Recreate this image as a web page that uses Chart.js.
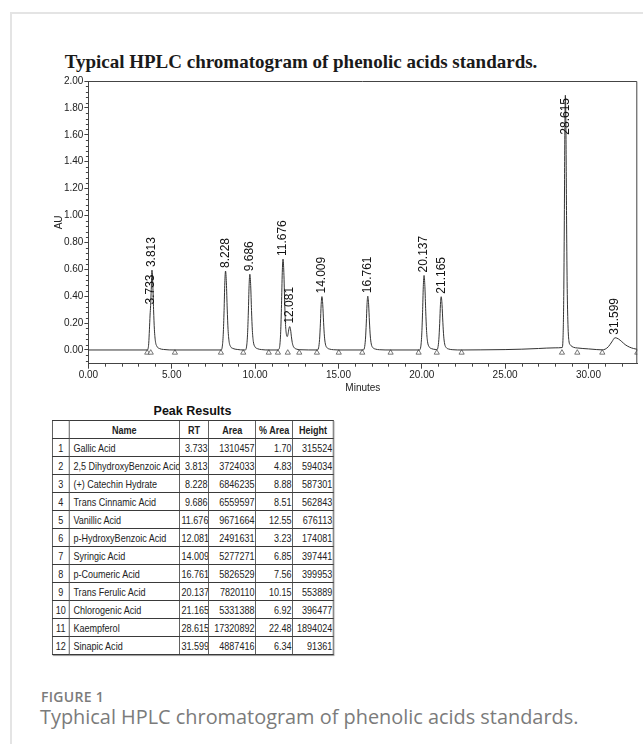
<!DOCTYPE html>
<html>
<head>
<meta charset="utf-8">
<script src="https://cdn.jsdelivr.net/npm/chart.js@4.4.1/dist/chart.umd.min.js"></script>
<style>
  html, body { margin: 0; padding: 0; background: #fff; }
  body { width: 643px; height: 744px; position: relative; overflow: hidden; font-family: Arial, "Liberation Sans", sans-serif; }
  .card { position: absolute; left: 10px; top: 12px; width: 700px; height: 800px; border: 2px solid #e4e4e4; box-sizing: border-box; }
  .title { position: absolute; left: 0; width: 602px; top: 51px; text-align: center; font-family: "Times New Roman", "Liberation Serif", serif; font-weight: bold; font-size: 19px; color: #1a1a1a; }
  #chartBox { position: absolute; left: 40px; top: 70px; width: 603px; height: 330px; }
  .peak-title { position: absolute; left: 52px; width: 281px; top: 404px; text-align: center; font-weight: bold; font-size: 12.5px; color: #111; }
  #peakTable { position: absolute; left: 51.5px; top: 420px; border-collapse: collapse; table-layout: fixed; width: 351.3px;
    transform: scaleX(0.8); transform-origin: 0 0;
    font-family: Arial, "Liberation Sans", sans-serif; font-size: 11.3px; color: #222; box-shadow: 1px 1px 1px #999; }
  #peakTable tr { height: 18px; }
  #peakTable td, #peakTable th { border: 1px solid #3a3a3a; padding: 0 2px; white-space: nowrap; overflow: hidden; line-height: 12px; }
  #peakTable th { font-weight: bold; text-align: center; }
  #peakTable td.n { text-align: center; }
  #peakTable td.name { text-align: left; padding-left: 5px; }
  #peakTable td.num { text-align: right; padding-right: 1px; }
  .fig { position: absolute; left: 41px; top: 687px; font-family: "Open Sans", sans-serif; font-weight: 600; font-size: 14px; color: #7b7b7b; letter-spacing: 0.3px; }
  .cap { position: absolute; left: 40px; top: 703px; font-family: "Open Sans", sans-serif; font-size: 19.9px; color: #7b7b7b; }
</style>
</head>
<body>
<div class="card"></div>
<div class="title">Typical HPLC chromatogram of phenolic acids standards.</div>
<div id="chartBox"><canvas id="chrom"></canvas></div>
<div class="peak-title">Peak Results</div>
<table id="peakTable">
  <colgroup>
    <col style="width:20.8px"><col style="width:138px"><col style="width:36.6px">
    <col style="width:58.7px"><col style="width:46.3px"><col style="width:50.9px">
  </colgroup>
  <thead><tr><th></th><th>Name</th><th>RT</th><th>Area</th><th>% Area</th><th>Height</th></tr></thead>
  <tbody id="peakRows"></tbody>
</table>
<div class="fig">FIGURE 1</div>
<div class="cap">Typhical HPLC chromatogram of phenolic acids standards.</div>

<script>
// Chromatogram trace (minutes, AU)
const TRACE_MIN = [
  0, 3.53,
  3.58, 3.62, 3.66, 3.70, 3.733, 3.77, 3.813, 3.86, 3.91, 3.96, 4.02, 4.11, 4.26, 4.5, 5.19,
  7.95, 8.03, 8.09, 8.14, 8.183, 8.228, 8.278, 8.328, 8.378, 8.438, 8.528, 8.678, 8.928, 9.29,
  9.406, 9.486, 9.546, 9.596, 9.641, 9.686, 9.736, 9.786, 9.836, 9.896, 9.986, 10.136, 10.386, 10.82,
  11.37, 11.40, 11.476, 11.536, 11.586, 11.631, 11.676, 11.726, 11.776, 11.826, 11.88, 11.93,
  11.98, 12.03, 12.081, 12.13, 12.18, 12.23, 12.29, 12.38, 12.5, 12.65,
  13.73, 13.809, 13.869, 13.919, 13.964, 14.009, 14.059, 14.109, 14.159, 14.219, 14.309, 14.459, 14.709, 15.02,
  16.48, 16.561, 16.621, 16.671, 16.716, 16.761, 16.811, 16.861, 16.911, 16.971, 17.061, 17.211, 17.461, 18.13,
  19.857, 19.937, 19.997, 20.047, 20.092, 20.137, 20.187, 20.237, 20.287, 20.347, 20.437, 20.587, 20.8, 20.9,
  20.965, 21.025, 21.075, 21.12, 21.165, 21.215, 21.265, 21.315, 21.375, 21.465, 21.615, 21.865, 22.39,
  23.5, 25.0, 26.0, 27.0, 28.0, 28.419,
  28.475, 28.517, 28.552, 28.584, 28.615, 28.65, 28.685, 28.72, 28.762, 28.825, 28.93, 29.105, 29.33,
  30.0, 30.5, 30.83,
  31.0, 31.2, 31.4, 31.599, 31.8, 32.0, 32.2, 32.45, 32.7, 32.93
];
const TRACE_AU = [
  0, 0,
  0.010, 0.050, 0.150, 0.260, 0.330, 0.450, 0.594, 0.500, 0.300, 0.150, 0.065, 0.027, 0.011, 0.004, 0,
  0, 0.023, 0.117, 0.294, 0.499, 0.587, 0.499, 0.305, 0.153, 0.065, 0.026, 0.011, 0.004, 0,
  0, 0.023, 0.113, 0.282, 0.479, 0.563, 0.479, 0.293, 0.146, 0.062, 0.025, 0.010, 0.003, 0,
  0, 0.002, 0.027, 0.135, 0.338, 0.575, 0.676, 0.575, 0.352, 0.190, 0.115, 0.100,
  0.120, 0.158, 0.174, 0.150, 0.098, 0.055, 0.028, 0.013, 0.006, 0.002,
  0, 0.016, 0.079, 0.199, 0.337, 0.397, 0.337, 0.206, 0.103, 0.044, 0.018, 0.007, 0.002, 0,
  0, 0.016, 0.080, 0.200, 0.340, 0.400, 0.340, 0.208, 0.104, 0.044, 0.018, 0.007, 0.002, 0,
  0, 0.022, 0.111, 0.277, 0.471, 0.554, 0.471, 0.288, 0.144, 0.061, 0.025, 0.010, 0.004, 0.003,
  0.016, 0.079, 0.198, 0.337, 0.396, 0.337, 0.206, 0.103, 0.044, 0.018, 0.007, 0.002, 0,
  0.001, 0.003, 0.006, 0.011, 0.016, 0.018,
  0.094, 0.397, 0.965, 1.628, 1.894, 1.627, 1.000, 0.508, 0.224, 0.070, 0.035, 0.020, 0.015,
  0.008, 0.003, 0.001,
  0.006, 0.025, 0.060, 0.091, 0.082, 0.062, 0.040, 0.022, 0.011, 0.005
];

// Peak integration markers (minutes) and their drawing level (AU)
const MARKER_MIN = [3.53, 3.74, 5.19, 7.95, 9.29, 10.82, 11.37, 11.96, 12.65, 13.71, 15.02,
  16.43, 18.13, 19.81, 20.90, 22.39, 28.41, 29.33, 30.83, 32.93];
const MARKER_AU = -0.02;

// Peak Results table
const PEAK_NAME = ['Gallic Acid', '2,5 DihydroxyBenzoic Acid', '(+) Catechin Hydrate', 'Trans Cinnamic Acid',
  'Vanillic Acid', 'p-HydroxyBenzoic Acid', 'Syringic Acid', 'p-Coumeric Acid', 'Trans Ferulic Acid',
  'Chlorogenic Acid', 'Kaempferol', 'Sinapic Acid'];
const PEAK_RT = [3.733, 3.813, 8.228, 9.686, 11.676, 12.081, 14.009, 16.761, 20.137, 21.165, 28.615, 31.599];
const PEAK_AREA = [1310457, 3724033, 6846235, 6559597, 9671664, 2491631, 5277271, 5826529, 7820110, 5331388, 17320892, 4887416];
const PEAK_PCT = [1.70, 4.83, 8.88, 8.51, 12.55, 3.23, 6.85, 7.56, 10.15, 6.92, 22.48, 6.34];
const PEAK_HEIGHT = [315524, 594034, 587301, 562843, 676113, 174081, 397441, 399953, 553889, 396477, 1894024, 91361];

// Axis ticks
const X_TICKS = [0, 5, 10, 15, 20, 25, 30];
const Y_TICKS = [0, 0.2, 0.4, 0.6, 0.8, 1.0, 1.2, 1.4, 1.6, 1.8, 2.0];

// Fill the table
const tbody = document.getElementById('peakRows');
PEAK_NAME.forEach((name, i) => {
  const tr = document.createElement('tr');
  tr.innerHTML = `<td class="n">${i + 1}</td><td class="name">${name}</td>` +
    `<td class="num">${PEAK_RT[i].toFixed(3)}</td><td class="num">${PEAK_AREA[i]}</td>` +
    `<td class="num">${PEAK_PCT[i].toFixed(2)}</td><td class="num">${PEAK_HEIGHT[i]}</td>`;
  tbody.appendChild(tr);
});

// Frame, minor ticks and rotated retention-time labels
const chromPlugin = {
  id: 'chrom',
  afterDraw(chart) {
    const { ctx, chartArea: a, scales: { x, y } } = chart;
    ctx.save();
    ctx.strokeStyle = '#444';
    ctx.lineWidth = 1;
    ctx.beginPath();
    ctx.moveTo(a.left, a.top + 0.5);
    ctx.lineTo(a.right - 0.5, a.top + 0.5);
    ctx.lineTo(a.right - 0.5, a.bottom);
    for (let m = 1; m <= 32; m++) {
      if (m % 5 === 0) continue;
      const px = Math.round(x.getPixelForValue(m)) + 0.5;
      ctx.moveTo(px, a.bottom);
      ctx.lineTo(px, a.bottom + 3);
    }
    for (let k = -2; k <= 50; k++) {
      if (k % 5 === 0) continue;
      const py = Math.round(y.getPixelForValue(k * 0.04)) + 0.5;
      ctx.moveTo(a.left - 2.5, py);
      ctx.lineTo(a.left, py);
    }
    ctx.stroke();

    ctx.fillStyle = '#111';
    ctx.font = '12px Arial, "Liberation Sans", sans-serif';
    ctx.textBaseline = 'middle';
    ctx.textAlign = 'left';
    PEAK_RT.forEach((rt, i) => {
      const label = rt.toFixed(3);
      const w = ctx.measureText(label).width;
      let base = y.getPixelForValue(PEAK_HEIGHT[i] / 1e6) - 3;
      if (base - w < a.top + 17) base = a.top + 17 + w;
      ctx.save();
      ctx.translate(x.getPixelForValue(rt), base);
      ctx.rotate(-Math.PI / 2);
      ctx.fillText(label, 0, 0);
      ctx.restore();
    });
    ctx.restore();
  }
};

Chart.defaults.font.family = 'Arial, "Liberation Sans", sans-serif';

new Chart(document.getElementById('chrom'), {
  type: 'line',
  data: {
    datasets: [
      {
        data: TRACE_MIN.map((t, i) => ({ x: t, y: TRACE_AU[i] })),
        borderColor: '#333',
        borderWidth: 1,
        pointRadius: 0,
        cubicInterpolationMode: 'monotone',
        fill: false
      },
      {
        type: 'scatter',
        data: MARKER_MIN.map(t => ({ x: t, y: MARKER_AU })),
        pointStyle: 'triangle',
        pointRadius: 3,
        borderColor: '#555',
        backgroundColor: '#fff',
        borderWidth: 0.8
      }
    ]
  },
  options: {
    responsive: true,
    maintainAspectRatio: false,
    animation: false,
    devicePixelRatio: 1,
    layout: { padding: { left: 0, right: 5.7, top: 11, bottom: 0 } },
    plugins: { legend: { display: false }, tooltip: { enabled: false } },
    scales: {
      x: {
        type: 'linear', min: 0, max: 32.93,
        afterBuildTicks: s => { s.ticks = X_TICKS.map(v => ({ value: v })); },
        afterFit: s => { s.height = 36.3; },
        grid: { display: true, drawOnChartArea: false, tickLength: 5, color: '#444' },
        border: { color: '#444' },
        ticks: { callback: v => v.toFixed(2), font: { size: 10 }, color: '#222', padding: 1, maxRotation: 0, autoSkip: false },
        title: { display: true, text: 'Minutes', font: { size: 10 }, color: '#222', padding: { top: 0, bottom: 6 } }
      },
      y: {
        min: -0.102, max: 2.0,
        afterBuildTicks: s => { s.ticks = Y_TICKS.map(v => ({ value: v })); },
        afterFit: s => { s.width = 48.4; },
        grid: { display: true, drawOnChartArea: false, tickLength: 4, color: '#444' },
        border: { color: '#444' },
        ticks: { callback: v => v.toFixed(2), font: { size: 10 }, color: '#222', padding: 1 },
        title: { display: true, text: 'AU', font: { size: 10 }, color: '#222', padding: { top: 13, bottom: 0 } }
      }
    }
  },
  plugins: [chromPlugin]
});
</script>
</body>
</html>
